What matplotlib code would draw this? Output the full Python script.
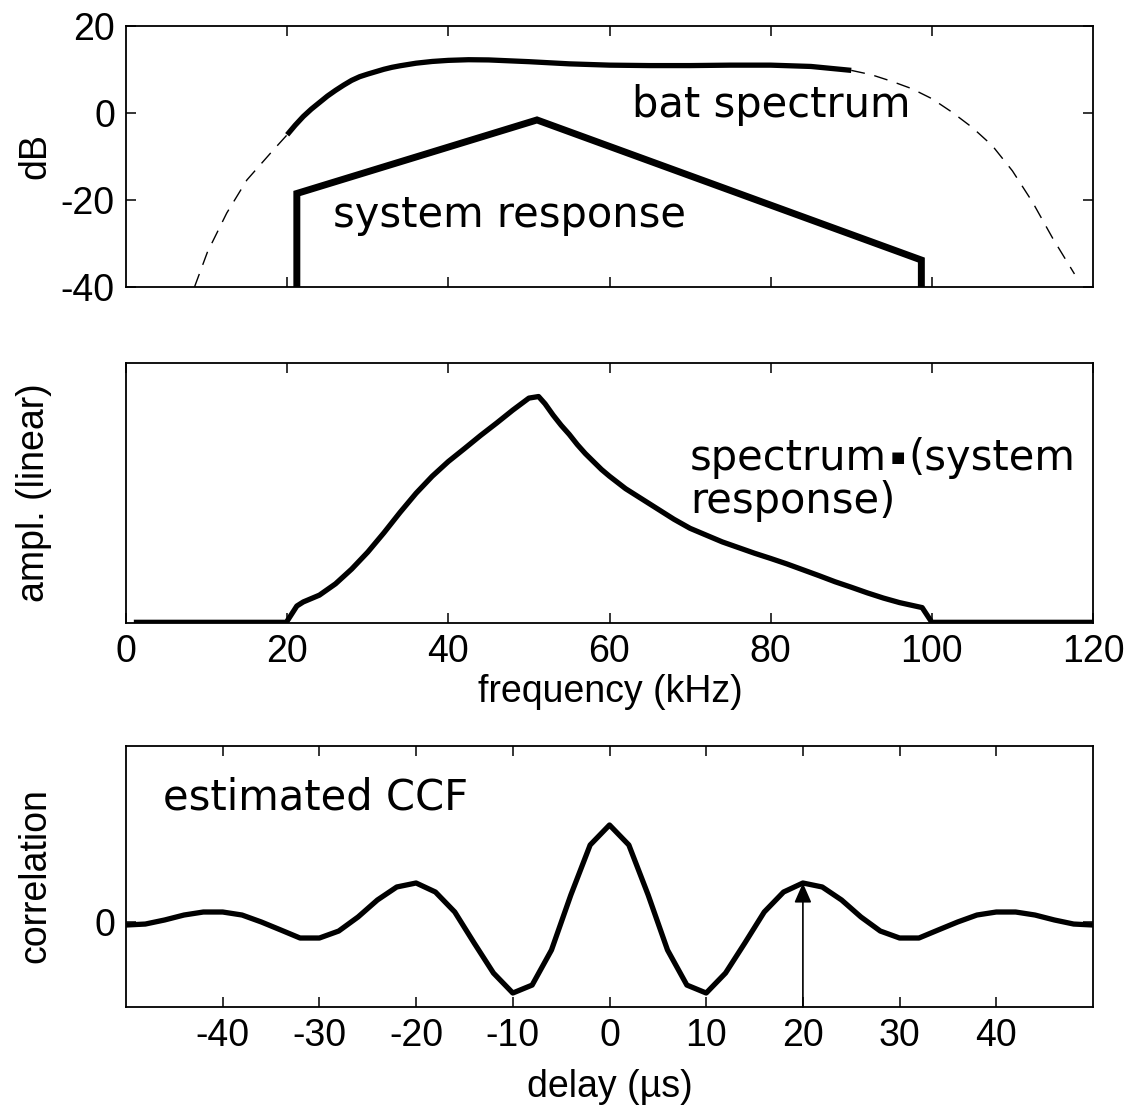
import numpy as np
from matplotlib import pyplot as plt

# bat spectrum (dB)
bat_f = [8.5, 10.1, 12.5, 15, 17.9, 20, 21, 22, 23, 24, 25, 26, 27, 28, 29, 30, 31, 32, 33,
         34, 35, 36, 38, 40, 42.5, 45, 47.5, 50, 55, 60, 65, 70, 75, 80, 85, 90,
         92.5, 95, 97.5, 100, 102.5, 105, 107.5, 110, 112.5, 115, 117.7]
bat_db = [-40, -32, -23, -15.4, -9.3, -5.0, -2.8, -0.8, 0.9, 2.4, 3.9, 5.2, 6.4, 7.5, 8.35,
          8.95, 9.5, 10.05, 10.5, 10.85, 11.15, 11.45, 11.85, 12.1, 12.25, 12.2, 12.0, 11.8,
          11.3, 11.0, 10.9, 10.9, 11.0, 11.0, 10.7, 9.8,
          8.8, 7.3, 5.6, 3.3, 0.2, -3.3, -7.5, -13.3, -20.5, -28.8, -37.0]

# system response (dB)
sys_f = [21.2, 21.2, 51.0, 98.7, 98.7]
sys_db = [-40, -18.5, -1.6, -33.8, -40]

# spectrum * system response (linear, arbitrary units)
prod_f = [1.3, 19.9, 21.2, 22, 24, 26, 28, 30, 32, 34, 36, 38, 40, 42, 44, 46, 48, 50, 51.2,
          52, 53, 54, 55, 56, 57, 58, 59, 60, 62, 64, 66, 68, 70, 72, 74, 76, 78, 80,
          82, 84, 86, 88, 90, 92, 94, 96, 98.8, 100.0, 120.0]
prod_amp = [0, 0, 0.072, 0.09, 0.12, 0.17, 0.235, 0.31, 0.395, 0.485, 0.57, 0.645, 0.71,
            0.767, 0.825, 0.88, 0.937, 0.99, 0.997,
            0.965, 0.915, 0.87, 0.83, 0.785, 0.745, 0.71, 0.675, 0.645, 0.59, 0.545, 0.5,
            0.455, 0.415, 0.385, 0.355, 0.33, 0.305, 0.282, 0.258, 0.232, 0.206, 0.179,
            0.155, 0.13, 0.107, 0.087, 0.065, 0, 0]

# estimated cross-correlation function
delay = np.arange(-50, 51, 2)
ccf_half = [1.0, 0.794, 0.278, -0.289, -0.65, -0.732, -0.526, -0.216, 0.103, 0.309, 0.402,
            0.361, 0.227, 0.052, -0.093, -0.165, -0.165, -0.082, 0.0, 0.072, 0.103, 0.103,
            0.072, 0.021, -0.021, -0.031]
ccf = ccf_half[:0:-1] + ccf_half

tickfont = 'Liberation Sans'
annfont = 'DejaVu Sans'
plt.rcParams['font.family'] = tickfont
plt.rcParams['axes.unicode_minus'] = False

fig = plt.figure(figsize=(11.26, 11.15), dpi=100)
W, H = 1126, 1115


def add_ax(top, bottom, left=126, right=1093):
    return fig.add_axes([left / W, 1 - bottom / H, (right - left) / W, (bottom - top) / H])


def style(ax):
    for s in ax.spines.values():
        s.set_linewidth(1.3)
    ax.tick_params(direction='in', length=7, width=1.1, top=True, right=True,
                   labelsize=27, pad=8)


def ptext(x, y, s, **kw):
    # text placed by pixel position measured from the top-left corner
    return fig.text(x / W, 1 - y / H, s, **kw)


# top panel
ax1 = add_ax(26, 287)
style(ax1)
bf = np.array(bat_f)
bd = np.array(bat_db)
lo = bf <= 20
hi = bf >= 90
mid = (bf >= 20) & (bf <= 90)
ax1.plot(bf[lo], bd[lo], 'k--', lw=1.0, dashes=(10, 7))
ax1.plot(bf[hi], bd[hi], 'k--', lw=1.0, dashes=(10, 7))
ax1.plot(bf[mid], bd[mid], 'k-', lw=3.8, solid_capstyle='butt')
ax1.plot(sys_f, sys_db, 'k-', lw=5.0, solid_joinstyle='miter')
ax1.set_xlim(0, 120)
ax1.set_ylim(-40, 20)
ax1.set_xticks([20, 40, 60, 80, 100])
ax1.set_xticklabels([])
ax1.set_yticks([-40, -20, 0, 20])
ann = dict(fontsize=30, family=annfont, ha='left')
ptext(632, 105, 'bat spectrum', va='center', **ann)
ptext(333, 215, 'system response', va='center', **ann)

# middle panel
ax2 = add_ax(363, 623)
style(ax2)
ax2.plot(prod_f, prod_amp, 'k-', lw=3.8)
ax2.set_xlim(0, 120)
ax2.set_ylim(-0.003, 1.145)
ax2.set_xticks([0, 20, 40, 60, 80, 100, 120])
ax2.set_yticks([])

# "spectrum▪(system" built from pieces so the square dot can be small
r = fig.canvas.get_renderer()
t1 = ptext(690, 470, 'spectrum', va='baseline', **ann)
x1 = t1.get_window_extent(r).x1
t2 = ptext(x1 + 4, 457, '\u25a0', va='center', fontsize=11, family=annfont, ha='left')
x2 = t2.get_window_extent(r).x1
ptext(x2 + 3, 470, '(system', va='baseline', **ann)
ptext(690, 513, 'response)', va='baseline', **ann)

# bottom panel
ax3 = add_ax(746, 1007)
style(ax3)
ax3.plot(delay, ccf, 'k-', lw=3.8)
ax3.annotate('', xy=(20, 0.402), xytext=(20, -0.876),
             arrowprops=dict(arrowstyle='-|>,head_length=0.8,head_width=0.35',
                             mutation_scale=15, lw=1.2, color='k',
                             shrinkA=0, shrinkB=0))
ax3.set_xlim(-50, 50)
ax3.set_ylim(-0.876, 1.814)
ax3.set_xticks([-40, -30, -20, -10, 0, 10, 20, 30, 40])
ax3.set_yticks([0])
ptext(163, 797, 'estimated CCF', va='center', **ann)

# axis labels placed in pixel coordinates
lab = dict(ha='center', va='center', fontsize=27)
ptext(35, 156, 'dB', rotation=90, **lab)
ptext(34, 493, 'ampl. (linear)', rotation=90, **lab)
ptext(35, 876, 'correlation', rotation=90, **lab)
ptext(610, 692, 'frequency (kHz)', **lab)
ptext(610, 1087, 'delay (\u00b5s)', **lab)

fig.savefig('out.png', dpi=100)
